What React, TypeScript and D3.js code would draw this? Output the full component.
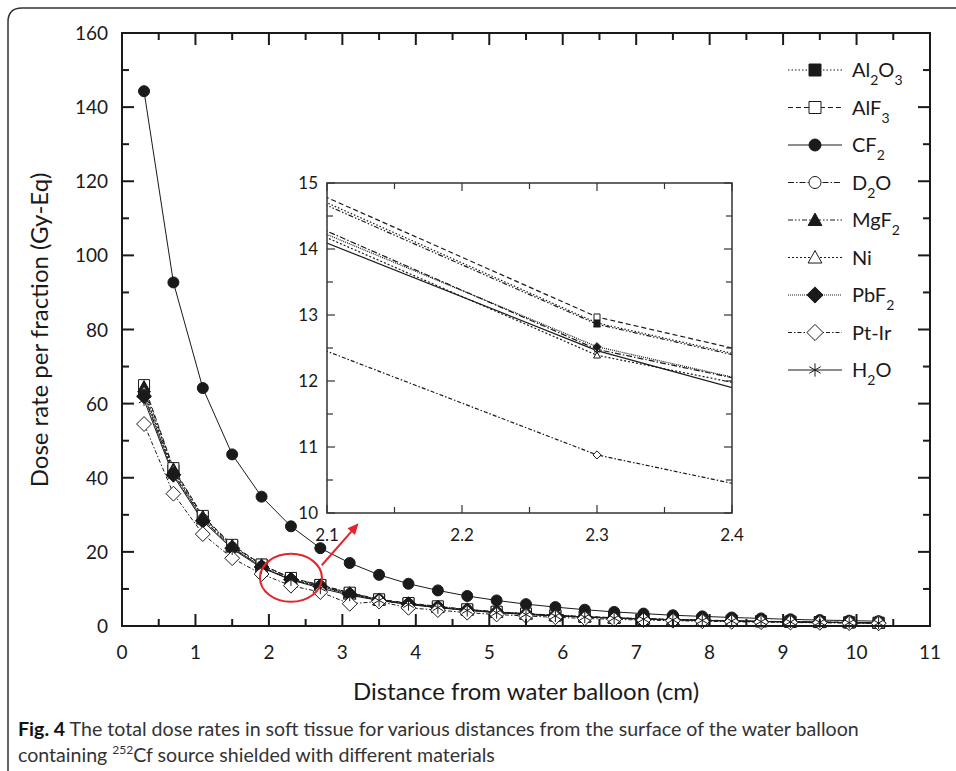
import * as d3 from "d3";

// distance from the water balloon surface (cm)
const distances = [0.3, 0.7, 1.1, 1.5, 1.9, 2.3, 2.7, 3.1, 3.5, 3.9, 4.3, 4.7, 5.1, 5.5, 5.9, 6.3, 6.7, 7.1, 7.5, 7.9, 8.3, 8.7, 9.1, 9.5, 9.9, 10.3];

// dose rate per fraction (Gy-Eq)
const al2o3 = [63.5, 42.0, 29.3, 21.6, 16.52, 12.88, 11.04, 8.9, 7.1, 6.1, 5.2, 4.4, 3.8, 3.3, 2.85, 2.5, 2.2, 1.95, 1.75, 1.55, 1.4, 1.25, 1.15, 1.05, 0.95, 0.85];
const alf3 = [65.0, 42.6, 29.7, 21.9, 16.59, 12.97, 11.09, 9.0, 7.2, 6.2, 5.3, 4.5, 3.85, 3.35, 2.9, 2.55, 2.25, 2.0, 1.78, 1.6, 1.42, 1.28, 1.17, 1.06, 0.97, 0.88];
const cf2 = [144.3, 92.7, 64.2, 46.3, 34.9, 26.9, 21.0, 17.0, 13.8, 11.4, 9.6, 8.1, 6.9, 5.9, 5.1, 4.4, 3.8, 3.35, 2.9, 2.6, 2.3, 2.05, 1.8, 1.6, 1.45, 1.3];
const d2o = [62.2, 41.2, 28.8, 21.2, 16.06, 12.48, 10.76, 8.6, 7.0, 5.95, 5.05, 4.3, 3.7, 3.2, 2.8, 2.45, 2.15, 1.9, 1.7, 1.52, 1.37, 1.23, 1.12, 1.02, 0.93, 0.84];
const mgf2 = [64.5, 42.3, 29.5, 21.7, 16.46, 12.86, 11.02, 8.9, 7.1, 6.1, 5.2, 4.4, 3.8, 3.3, 2.85, 2.5, 2.2, 1.95, 1.74, 1.56, 1.4, 1.26, 1.15, 1.05, 0.95, 0.86];
const ni = [63.0, 41.6, 28.9, 21.3, 15.95, 12.39, 10.75, 8.6, 7.0, 5.9, 5.0, 4.3, 3.7, 3.2, 2.8, 2.45, 2.15, 1.9, 1.7, 1.52, 1.36, 1.22, 1.11, 1.01, 0.92, 0.83];
const pbf2 = [62.0, 40.8, 28.4, 21.0, 15.92, 12.52, 10.68, 8.5, 6.9, 5.9, 5.0, 4.25, 3.65, 3.15, 2.75, 2.42, 2.13, 1.88, 1.68, 1.5, 1.35, 1.21, 1.1, 1.0, 0.91, 0.82];
const ptir = [54.5, 35.7, 24.8, 18.3, 14.02, 10.88, 9.16, 6.0, 6.6, 4.9, 4.3, 3.6, 3.1, 2.7, 2.35, 2.05, 1.8, 1.6, 1.43, 1.28, 1.15, 1.03, 0.94, 0.86, 0.78, 0.71];
const h2o = [61.0, 40.5, 28.3, 20.8, 15.72, 12.46, 10.22, 8.3, 6.9, 5.8, 4.95, 4.2, 3.6, 3.1, 2.7, 2.4, 2.1, 1.85, 1.65, 1.5, 1.35, 1.2, 1.1, 1.0, 0.9, 0.8];

// legend labels: [text, subscript]
const labels: Array<Array<[string, boolean]>> = [
  [["Al", false], ["2", true], ["O", false], ["3", true]],
  [["AlF", false], ["3", true]],
  [["CF", false], ["2", true]],
  [["D", false], ["2", true], ["O", false]],
  [["MgF", false], ["2", true]],
  [["Ni", false]],
  [["PbF", false], ["2", true]],
  [["Pt-Ir", false]],
  [["H", false], ["2", true], ["O", false]],
];
const seriesValues = [al2o3, alf3, cf2, d2o, mgf2, ni, pbf2, ptir, h2o];

const mainXTicks = [0, 1, 2, 3, 4, 5, 6, 7, 8, 9, 10, 11];
const mainYTicks = [0, 20, 40, 60, 80, 100, 120, 140, 160];
const insetXTicks = [2.1, 2.2, 2.3, 2.4];
const insetYTicks = [10, 11, 12, 13, 14, 15];

// line/marker styling per series (same order)
const styles = [
  { dash: "1.5,2", shape: "square", filled: true },
  { dash: "5,3", shape: "square", filled: false },
  { dash: null, shape: "circle", filled: true },
  { dash: "6,2,1.5,2", shape: "circle", filled: false },
  { dash: "5,2,1.5,2,1.5,2", shape: "triangle", filled: true },
  { dash: "2,2", shape: "triangle", filled: false },
  { dash: "1,1", shape: "diamond", filled: true },
  { dash: "4,2,1.5,2", shape: "diamond", filled: false },
  { dash: null, shape: "asterisk", filled: false },
];

const FONT = "Lato, 'Open Sans', sans-serif";
const INK = "#1a1a1a";

function markerPath(shape: string, r: number) {
  if (shape === "square") return `M${-r},${-r}H${r}V${r}H${-r}Z`;
  if (shape === "circle") return `M${r},0A${r},${r} 0 1,1 ${-r},0A${r},${r} 0 1,1 ${r},0Z`;
  if (shape === "triangle") {
    const h = r * 1.15;
    return `M0,${-h}L${h},${h * 0.8}L${-h},${h * 0.8}Z`;
  }
  if (shape === "diamond") {
    const d = r * 1.35;
    return `M0,${-d}L${d},0L0,${d}L${-d},0Z`;
  }
  // asterisk
  const a = r * 1.1;
  const c = a * Math.cos(Math.PI / 6);
  const s = a * Math.sin(Math.PI / 6);
  return `M0,${-a}V${a}M${-c},${-s}L${c},${s}M${-c},${s}L${c},${-s}`;
}

function Marker({ shape, filled, r, cx, cy }: { shape: string; filled: boolean; r: number; cx: number; cy: number }) {
  return (
    <path
      d={markerPath(shape, r)}
      transform={`translate(${cx},${cy})`}
      fill={shape === "asterisk" ? "none" : filled ? INK : "#fff"}
      stroke={INK}
      strokeWidth={1}
    />
  );
}

export default function App() {
  const x = d3.scaleLinear().domain([0, 11]).range([122, 930]);
  const y = d3.scaleLinear().domain([0, 160]).range([626, 33]);
  const xi = d3.scaleLinear().domain([2.1, 2.4]).range([327, 732]);
  const yi = d3.scaleLinear().domain([10, 15]).range([513, 183]);

  const line = d3
    .line<number>()
    .x((_, i) => x(distances[i]))
    .y((d) => y(d));
  const lineInset = d3
    .line<number>()
    .x((_, i) => xi(distances[i]))
    .y((d) => yi(d));

  const [x0, x1] = x.range();
  const [y0, y1] = y.range();
  const minorX = d3.range(0.5, 11, 1);
  const minorY = d3.range(10, 160, 20);
  const [ix0, ix1] = xi.range();
  const [iy0, iy1] = yi.range();
  const minorXi = d3.range(2.15, 2.4, 0.1);
  const minorYi = d3.range(10.5, 15, 1);

  const legendY = d3.scaleLinear().domain([0, 8]).range([70, 370]);

  return (
    <svg width={956} height={771} style={{ position: "absolute", left: 0, top: 0, background: "#fff" }} fontFamily={FONT}>
      <rect width={956} height={771} fill="#fff" />
      {/* figure frame */}
      <path d="M8,771V22Q8,8 22,8H956" fill="none" stroke="#333" strokeWidth={1.5} />

      {/* main series */}
      {seriesValues.map((vals, k) => (
        <path key={"l" + k} d={line(vals) || ""} fill="none" stroke={INK} strokeWidth={1} strokeDasharray={styles[k].dash || undefined} />
      ))}
      {seriesValues.map((vals, k) =>
        vals.map((v, i) => (
          <Marker key={"m" + k + "-" + i} shape={styles[k].shape} filled={styles[k].filled} r={5.5} cx={x(distances[i])} cy={y(v)} />
        ))
      )}

      {/* main axes */}
      <rect x={x0} y={y1} width={x1 - x0} height={y0 - y1} fill="none" stroke={INK} strokeWidth={2} />
      {mainXTicks.map((t) => (
        <g key={"xt" + t}>
          <line x1={x(t)} x2={x(t)} y1={y0} y2={y0 - 12} stroke={INK} strokeWidth={2} />
          <line x1={x(t)} x2={x(t)} y1={y1} y2={y1 + 12} stroke={INK} strokeWidth={2} />
          <text x={x(t)} y={y0 + 33} textAnchor="middle" fontSize={19} fill={INK}>{t}</text>
        </g>
      ))}
      {minorX.map((t) => (
        <g key={"xm" + t}>
          <line x1={x(t)} x2={x(t)} y1={y0} y2={y0 - 7} stroke={INK} strokeWidth={2} />
          <line x1={x(t)} x2={x(t)} y1={y1} y2={y1 + 7} stroke={INK} strokeWidth={2} />
        </g>
      ))}
      {mainYTicks.map((t) => (
        <g key={"yt" + t}>
          <line x1={x0} x2={x0 + 12} y1={y(t)} y2={y(t)} stroke={INK} strokeWidth={2} />
          <line x1={x1} x2={x1 - 12} y1={y(t)} y2={y(t)} stroke={INK} strokeWidth={2} />
          <text x={108} y={y(t) + 7} textAnchor="end" fontSize={19} fill={INK}>{t}</text>
        </g>
      ))}
      {minorY.map((t) => (
        <g key={"ym" + t}>
          <line x1={x0} x2={x0 + 7} y1={y(t)} y2={y(t)} stroke={INK} strokeWidth={2} />
          <line x1={x1} x2={x1 - 7} y1={y(t)} y2={y(t)} stroke={INK} strokeWidth={2} />
        </g>
      ))}
      <text x={526} y={700} textAnchor="middle" fontSize={24} fill={INK}>Distance from water balloon (cm)</text>
      <text transform="translate(48,330) rotate(-90)" textAnchor="middle" fontSize={24} fill={INK}>Dose rate per fraction (Gy-Eq)</text>

      {/* legend */}
      {labels.map((parts, k) => {
        const ly = legendY(k);
        return (
          <g key={"lg" + k}>
            <line x1={788} x2={842} y1={ly} y2={ly} stroke={INK} strokeWidth={1} strokeDasharray={styles[k].dash || undefined} />
            <Marker shape={styles[k].shape} filled={styles[k].filled} r={6} cx={815} cy={ly} />
            <text x={852} y={ly + 7} fontSize={20} fill={INK}>
              {parts.map(([t, sub], j) => (
                <tspan key={j} fontSize={sub ? 14 : 20} dy={sub ? 8 : j > 0 && parts[j - 1][1] ? -8 : 0}>{t}</tspan>
              ))}
            </text>
          </g>
        );
      })}

      {/* inset */}
      <defs>
        <clipPath id="insetClip">
          <rect x={ix0} y={iy1} width={ix1 - ix0} height={iy0 - iy1} />
        </clipPath>
      </defs>
      <rect x={ix0} y={iy1} width={ix1 - ix0} height={iy0 - iy1} fill="#fff" />
      <g clipPath="url(#insetClip)">
        {seriesValues.map((vals, k) => (
          <path key={"il" + k} d={lineInset(vals) || ""} fill="none" stroke={INK} strokeWidth={1.2} strokeDasharray={styles[k].dash || undefined} />
        ))}
        {seriesValues.map((vals, k) =>
          vals.map((v, i) =>
            distances[i] > 2.1 && distances[i] < 2.4 ? (
              <Marker key={"im" + k + "-" + i} shape={styles[k].shape} filled={styles[k].filled} r={3} cx={xi(distances[i])} cy={yi(v)} />
            ) : null
          )
        )}
      </g>
      <rect x={ix0} y={iy1} width={ix1 - ix0} height={iy0 - iy1} fill="none" stroke="#333" strokeWidth={1.5} />
      {insetXTicks.map((t) => (
        <g key={"ixt" + t}>
          <line x1={xi(t)} x2={xi(t)} y1={iy0} y2={iy0 - 8} stroke="#333" strokeWidth={1.2} />
          <line x1={xi(t)} x2={xi(t)} y1={iy1} y2={iy1 + 8} stroke="#333" strokeWidth={1.2} />
          <text x={xi(t)} y={iy0 + 28} textAnchor="middle" fontSize={17} fill={INK}>{t.toFixed(1)}</text>
        </g>
      ))}
      {minorXi.map((t) => (
        <g key={"ixm" + t}>
          <line x1={xi(t)} x2={xi(t)} y1={iy0} y2={iy0 - 6} stroke="#333" strokeWidth={1.2} />
          <line x1={xi(t)} x2={xi(t)} y1={iy1} y2={iy1 + 6} stroke="#333" strokeWidth={1.2} />
        </g>
      ))}
      {insetYTicks.map((t) => (
        <g key={"iyt" + t}>
          <line x1={ix0} x2={ix0 + 8} y1={yi(t)} y2={yi(t)} stroke="#333" strokeWidth={1.2} />
          <line x1={ix1} x2={ix1 - 8} y1={yi(t)} y2={yi(t)} stroke="#333" strokeWidth={1.2} />
          <text x={318} y={yi(t) + 6} textAnchor="end" fontSize={17} fill={INK}>{t}</text>
        </g>
      ))}
      {minorYi.map((t) => (
        <g key={"iym" + t}>
          <line x1={ix0} x2={ix0 + 6} y1={yi(t)} y2={yi(t)} stroke="#333" strokeWidth={1.2} />
          <line x1={ix1} x2={ix1 - 6} y1={yi(t)} y2={yi(t)} stroke="#333" strokeWidth={1.2} />
        </g>
      ))}

      {/* zoom annotation */}
      <ellipse cx={x(2.3)} cy={y(13)} rx={31} ry={24} fill="none" stroke="#e3262b" strokeWidth={2} />
      <line x1={x(2.72)} x2={x(3.2)} y1={y(16.4)} y2={y(27.2)} stroke="#e3262b" strokeWidth={2} />
      <path
        d="M0,0L-11,-5L-11,5Z"
        fill="#e3262b"
        transform={`translate(${x(3.22)},${y(27.7)}) rotate(${(Math.atan2(y(27.2) - y(16.4), x(3.2) - x(2.72)) * 180) / Math.PI})`}
      />

      {/* caption */}
      <text x={18} y={736} fontSize={19.6} fill="#333">
        <tspan fontWeight="bold" fill="#111">Fig. 4</tspan>
        <tspan> The total dose rates in soft tissue for various distances from the surface of the water balloon</tspan>
      </text>
      <text x={18} y={762} fontSize={19.6} fill="#333">
        containing <tspan fontSize={12} dy={-8}>252</tspan><tspan dy={8}>Cf source shielded with different materials</tspan>
      </text>
    </svg>
  );
}
